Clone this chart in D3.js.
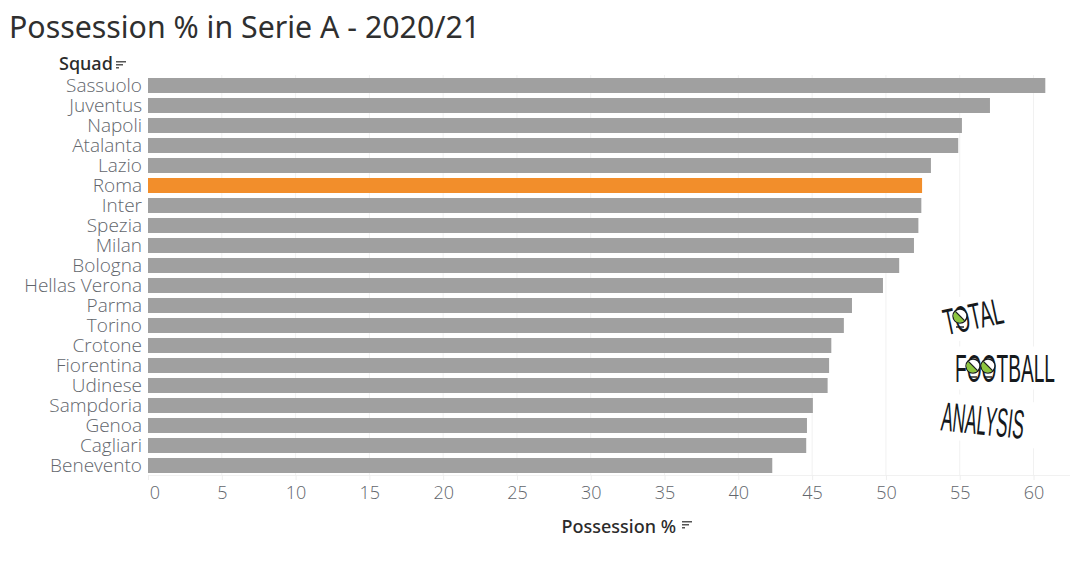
<!DOCTYPE html>
<html>
<head>
<meta charset="utf-8">
<script src="https://cdn.jsdelivr.net/npm/d3@7"></script>
<style>
  html, body { margin: 0; padding: 0; background: #fff; }
  svg { display: block; }
  text { font-family: "Open Sans", "Noto Sans", sans-serif; }
  .axis .domain { display: none; }
  .grid line { stroke: #f1f1f1; stroke-width: 1; }
  .xaxis line { stroke: #eeeeee; }
  .xaxis text { font-size: 18px; font-weight: 300; fill: #62666c; }
  .yaxis line { display: none; }
  .yaxis text { font-size: 19px; font-weight: 300; fill: #62666c; }
  .head { font-size: 18px; font-weight: 500; fill: #2b2b2b; font-family: "Noto Sans", sans-serif; }
  .logo { font-family: "Liberation Sans Narrow", "Liberation Sans", sans-serif; fill: #15191c; }
</style>
</head>
<body>
<svg id="chart" width="1083" height="570"></svg>
<script>
// ── Data ──────────────────────────────────────────────────────────────────────

const squads = ['Sassuolo', 'Juventus', 'Napoli', 'Atalanta', 'Lazio', 'Roma', 'Inter', 'Spezia',
  'Milan', 'Bologna', 'Hellas Verona', 'Parma', 'Torino', 'Crotone', 'Fiorentina', 'Udinese',
  'Sampdoria', 'Genoa', 'Cagliari', 'Benevento'];
const possession = [60.8, 57.05, 55.15, 54.9, 53.05, 52.45, 52.4, 52.2, 51.9, 50.9,
  49.8, 47.7, 47.15, 46.3, 46.15, 46.05, 45.05, 44.65, 44.6, 42.3];
const xTicks = [0, 5, 10, 15, 20, 25, 30, 35, 40, 45, 50, 55, 60];
const highlight = 'Roma';

// ── Scales ────────────────────────────────────────────────────────────────────

const svg = d3.select('#chart');
const x = d3.scaleLinear().domain([0, 60]).range([148, 1033.5]);
const y = d3.scaleBand().domain(squads).range([75.5, 475.5]).paddingInner(0.25).paddingOuter(0.125);

// ── Title ─────────────────────────────────────────────────────────────────────

svg.append('text')
  .attr('x', 9).attr('y', 38)
  .attr('font-size', 30.3).attr('fill', '#2f2f2f')
  .style('font-family', '"Noto Sans", "Open Sans", sans-serif')
  .text('Possession % in Serie A - 2020/21');

// ── Grid and axes ─────────────────────────────────────────────────────────────

svg.append('g').attr('class', 'grid')
  .selectAll('line').data(xTicks.slice(1)).join('line')
  .attr('x1', d => x(d)).attr('x2', d => x(d))
  .attr('y1', 75).attr('y2', 475);

svg.append('line')
  .attr('x1', 148).attr('x2', 1070)
  .attr('y1', 475.5).attr('y2', 475.5)
  .attr('stroke', '#f1f1f1');

const xAxis = svg.append('g').attr('class', 'axis xaxis')
  .attr('transform', 'translate(0,475)')
  .call(d3.axisBottom(x).tickValues(xTicks).tickSize(5).tickPadding(6));
xAxis.selectAll('.tick').filter(d => d === 0).select('text').attr('dx', 6.5);

const yAxis = svg.append('g').attr('class', 'axis yaxis')
  .attr('transform', 'translate(148,0)')
  .call(d3.axisLeft(y).tickSize(0).tickPadding(6));

// ── Bars ──────────────────────────────────────────────────────────────────────

svg.append('g')
  .selectAll('rect').data(squads).join('rect')
  .attr('x', x(0))
  .attr('y', d => y(d))
  .attr('width', (d, i) => x(possession[i]) - x(0))
  .attr('height', y.bandwidth())
  .attr('fill', d => d === highlight ? '#f28e2b' : '#a0a0a0');

// ── Header labels with sort icons ─────────────────────────────────────────────

function sortIcon(px, py) {
  const icon = svg.append('g').attr('transform', `translate(${px},${py})`).attr('fill', '#555');
  [10, 7, 3].forEach((w, i) => icon.append('rect')
    .attr('x', 0).attr('y', i * 3).attr('width', w).attr('height', 1.5));
}

svg.append('text').attr('class', 'head').attr('x', 59).attr('y', 70).text('Squad');
sortIcon(116, 61);
svg.append('text').attr('class', 'head').attr('x', 561.5).attr('y', 533).text('Possession %');
sortIcon(682, 521);

// ── Logo ──────────────────────────────────────────────────────────────────────

function logoWord(word, cx, cy, size, length, angle, patch) {
  const g = svg.append('g').attr('transform', `translate(${cx},${cy}) rotate(${angle})`);
  g.append('rect')
    .attr('x', -patch[0] / 2).attr('y', -patch[1] / 2)
    .attr('width', patch[0]).attr('height', patch[1])
    .attr('fill', '#fff');
  g.append('text').attr('class', 'logo')
    .attr('text-anchor', 'middle')
    .attr('y', size * 0.36)
    .attr('font-size', size)
    .attr('textLength', length)
    .attr('lengthAdjust', 'spacingAndGlyphs')
    .text(word);
}

// Ball in the O's: white disc, green lower-left half
const halfBall = d3.arc().innerRadius(0).outerRadius(6.5)
  .startAngle(Math.PI * 0.75).endAngle(Math.PI * 1.75);

function logoBall(cx, cy) {
  const b = svg.append('g').attr('transform', `translate(${cx},${cy})`);
  b.append('circle').attr('r', 7).attr('fill', '#fff').attr('stroke', '#15191c').attr('stroke-width', 1.4);
  b.append('path').attr('d', halfBall()).attr('fill', '#8cc63f');
  b.append('line').attr('x1', -4.6).attr('y1', -4.6).attr('x2', 4.6).attr('y2', 4.6)
    .attr('stroke', '#15191c').attr('stroke-width', 1.2);
  b.append('line').attr('x1', -4).attr('y1', 11).attr('x2', 4).attr('y2', 11)
    .attr('stroke', '#15191c').attr('stroke-width', 1.4);
}

logoWord('TOTAL', 973, 316, 37, 60, -12, [94, 43]);
logoWord('FOOTBALL', 1005, 368, 39, 100, 0, [136, 43]);
logoWord('ANALYSIS', 983, 420, 41, 83, 6, [110, 46]);
logoBall(960, 316);
logoBall(973, 366);
logoBall(988, 366);
</script>
</body>
</html>
